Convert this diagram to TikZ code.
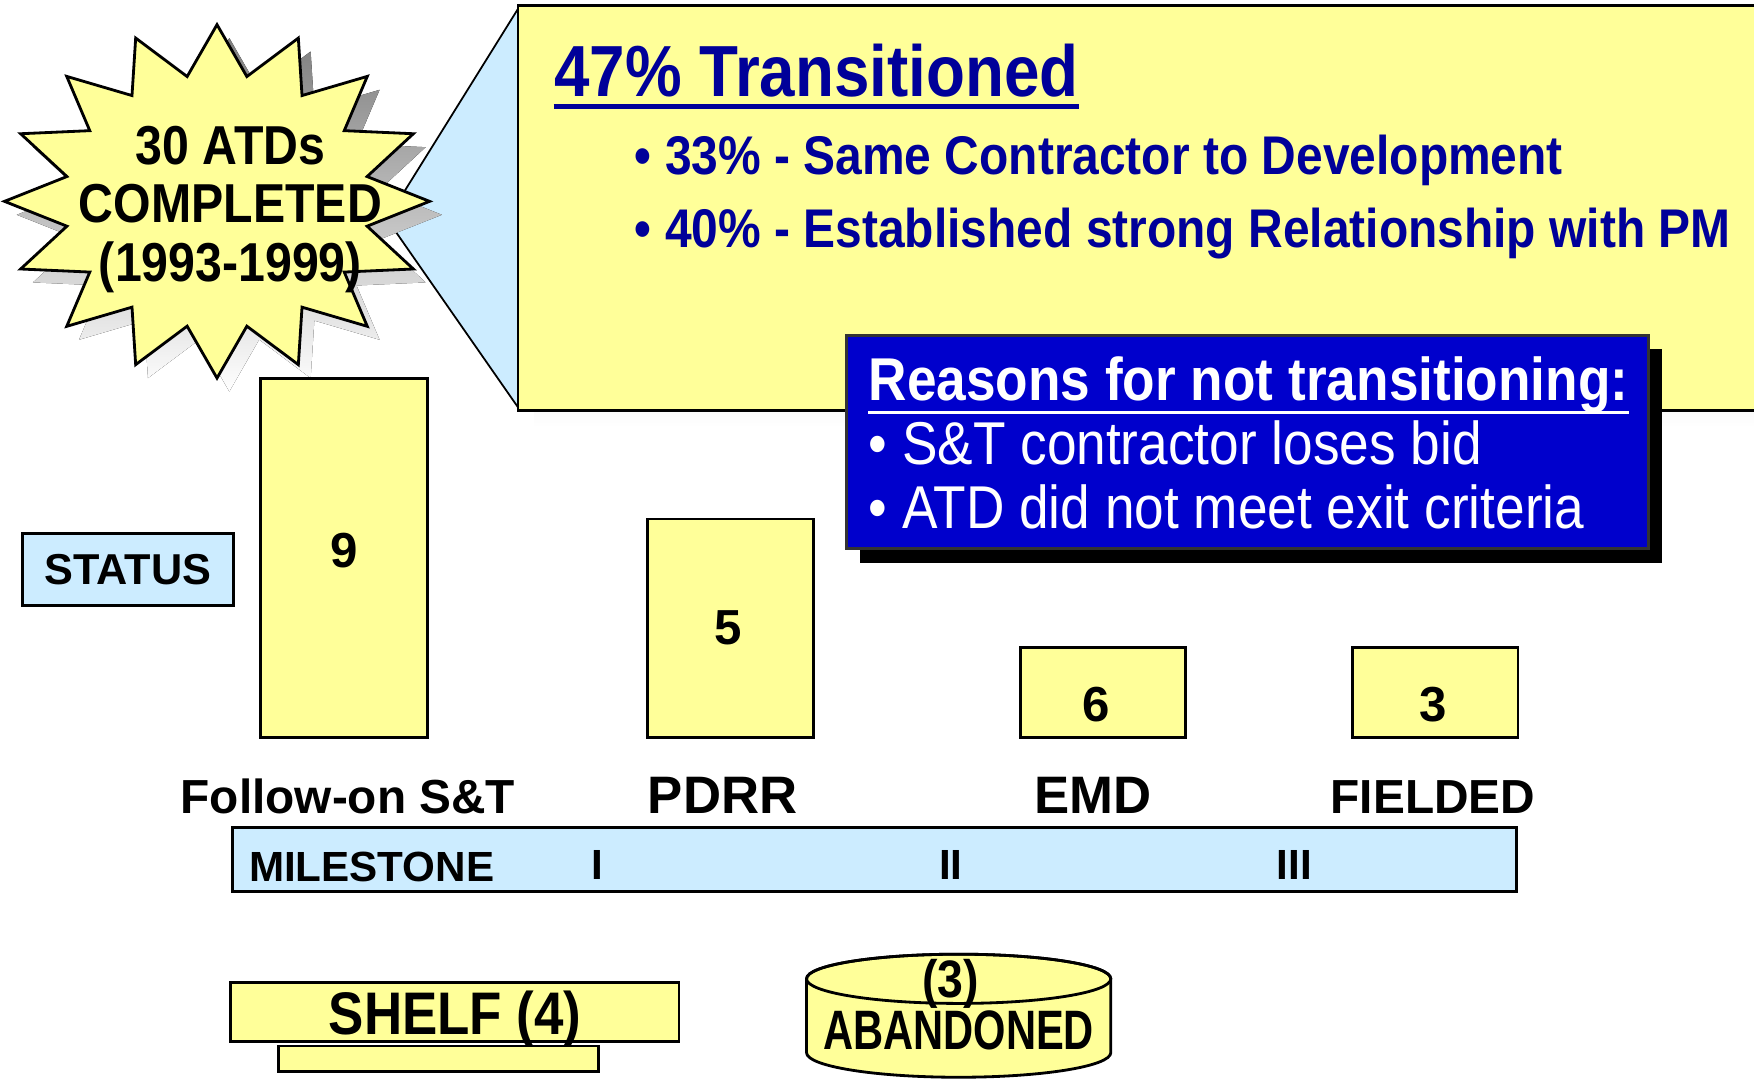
\documentclass[tikz,border=0pt]{standalone}
\usepackage{fontspec}
\setmainfont{Liberation Sans}
\newfontfamily\narrowfont{Liberation Sans}[FakeStretch=0.88]
\newfontfamily\squeezefont{Liberation Sans}[FakeStretch=0.75]
\usetikzlibrary{fit}
\definecolor{paleyellow}{HTML}{FFFF99}
\definecolor{paleblue}{HTML}{CCECFF}
\definecolor{navy}{HTML}{000099}
\definecolor{royal}{HTML}{0000CC}
\definecolor{shade}{HTML}{969696}

\begin{document}
\begin{tikzpicture}[x=0.01118cm, y=-0.01118cm]
\tikzset{yellowbox/.style = {draw, line width=0.8pt, fill=paleyellow, inner sep=0pt}}
\tikzset{skybox/.style = {draw, line width=0.8pt, fill=paleblue, inner sep=0pt}}
\tikzset{num/.style = {inner sep=0pt, font=\bfseries\fontsize{14}{16}\selectfont}}
\tikzset{stage/.style = {inner sep=0pt, anchor=base, font=\bfseries\fontsize{13.6}{16}\selectfont}}
\tikzset{bullet/.style = {inner sep=0pt, anchor=base west, text=navy, font=\narrowfont\bfseries\fontsize{15.5}{18}\selectfont}}
\tikzset{reason/.style = {inner sep=0pt, anchor=base west, text=white, font=\narrowfont\fontsize{17.2}{20}\selectfont}}
\def \cx {194}
\def \cy {180}
\useasboundingbox (0,0) rectangle (1568,965);

% callout with its wedge
\fill[shade] (478,20) rectangle (1580,382);
\coordinate (tip) at (346,196);
\draw[fill=paleblue, line width=0.5pt] (463,8) -- (tip) -- (463,364) -- cycle;
\node[yellowbox, fit={(463,5) (1580,367)}] (callout) {};

% starburst
\fill[shade] plot[samples at={0,...,31}] ({\cx+11+190*(0.86+0.14*cos(180*\x))*cos(90+11.25*\x)}, {\cy+12-158*(0.86+0.14*cos(180*\x))*sin(90+11.25*\x)}) -- cycle;
\draw[fill=paleyellow, line width=0.8pt] plot[samples at={0,...,31}] ({\cx+190*(0.86+0.14*cos(180*\x))*cos(90+11.25*\x)}, {\cy-158*(0.86+0.14*cos(180*\x))*sin(90+11.25*\x)}) -- cycle;
\node[align=center, inner sep=0pt, font=\narrowfont\bfseries\fontsize{15.6}{16.6}\selectfont] (atds) at (206,187) {30 ATDs\\COMPLETED\\(1993-1999)};

% transitioned text
\node[inner sep=0pt, anchor=base west, text=navy, font=\narrowfont\bfseries\fontsize{20.6}{24}\selectfont] (title) at (495,86) {47\% Transitioned};
\draw[navy, line width=1.5pt] ([yshift=-3pt]title.base west) -- ([yshift=-3pt]title.base east);
\node[bullet] (b1) at (567,156) {• 33\% - Same Contractor to Development};
\node[bullet] (b2) at (567,221) {• 40\% - Established strong Relationship with PM};

% reasons box
\fill[black] (769,312) rectangle (1486,503);
\node[draw=black!80, line width=0.8pt, fill=royal, inner sep=0pt, fit={(757,300) (1474,490)}] (why) {};
\node[reason, font=\narrowfont\bfseries\fontsize{17.2}{20}\selectfont] (whyhead) at (776,358) {Reasons for not transitioning:};
\draw[white, line width=1pt] ([yshift=-3.4pt]whyhead.base west) -- ([yshift=-3.4pt]whyhead.base east);
\node[reason] (r1) at (776,415) {• S\&T contractor loses bid};
\node[reason] (r2) at (776,472) {• ATD did not meet exit criteria};

% status and bars
\node[skybox, fit={(20,477) (209,541)}] (status) {};
\node[inner sep=0pt, font=\bfseries\fontsize{12.3}{14}\selectfont] (statustxt) at (status.center) {STATUS};
\node[yellowbox, fit={(233,338) (382,659)}] (bar9) {};
\node[yellowbox, fit={(579,464) (727,659)}] (bar5) {};
\node[yellowbox, fit={(912,579) (1060,659)}] (bar6) {};
\node[yellowbox, fit={(1209,579) (1357,659)}] (bar3) {};
\node[num] (n9) at (308,492) {9};
\node[num] (n5) at (651,561) {5};
\node[num] (n6) at (980,630) {6};
\node[num] (n3) at (1281,630) {3};

% stages and milestones
\node[stage] (s1) at (311,727) {Follow-on S\&T};
\node[stage, font=\bfseries\fontsize{15}{18}\selectfont] (s2) at (646,727) {PDRR};
\node[stage, font=\bfseries\fontsize{15}{18}\selectfont] (s3) at (977,727) {EMD};
\node[stage] (s4) at (1281,727) {FIELDED};
\node[skybox, fit={(208,740) (1356,797)}] (milestone) {};
\node[anchor=west, inner sep=0pt, font=\bfseries\fontsize{12}{14}\selectfont] (mtxt) at (222,775) {MILESTONE};
\node[num, font=\bfseries\fontsize{12}{14}\selectfont] (m1) at (534,773) {I};
\node[num, font=\bfseries\fontsize{12}{14}\selectfont] (m2) at (850,773) {II};
\node[num, font=\bfseries\fontsize{12}{14}\selectfont] (m3) at (1157,773) {III};

% shelf
\node[yellowbox, fit={(206,878) (607,931)}] (shelf) {};
\node[yellowbox, fit={(249,935) (535,958)}] (shelfbase) {};
\node[inner sep=0pt, anchor=base, font=\narrowfont\bfseries\fontsize{17.1}{20}\selectfont] (shelftxt) at (407,925) {SHELF (4)};

% abandoned drum
\draw[fill=paleyellow, line width=0.8pt] (721,875) -- (721,941) arc[start angle=180, end angle=0, x radius=136, y radius=22] -- (993,875) arc[start angle=0, end angle=-180, x radius=136, y radius=22] -- cycle;
\draw[line width=0.8pt] (857,875) ellipse[x radius=136, y radius=22];
\node[inner sep=0pt, anchor=base, font=\narrowfont\bfseries\fontsize{15}{18}\selectfont] (drumnum) at (850,892) {(3)};
\node[inner sep=0pt, anchor=base, font=\squeezefont\bfseries\fontsize{15.8}{18}\selectfont] (drumtxt) at (857,938) {ABANDONED};
\end{tikzpicture}
\end{document}
